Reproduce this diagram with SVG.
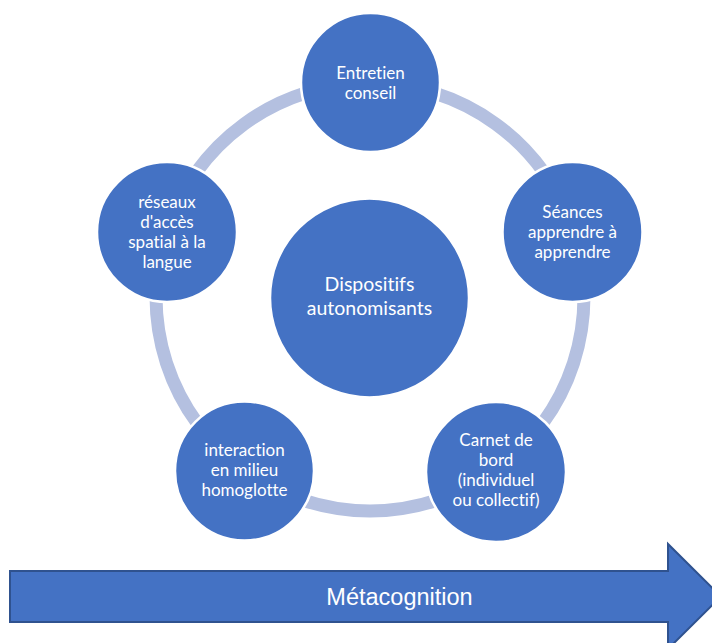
<svg xmlns="http://www.w3.org/2000/svg" width="712" height="643" viewBox="0 0 712 643">
<style>
.node{fill:#4472C4;stroke:#FFFFFF;stroke-width:2.5}
.lbl{font-family:Lato,"Open Sans","Liberation Sans",sans-serif;font-size:17px;fill:#FFFFFF;text-anchor:middle;font-variant-ligatures:none}
.big{font-size:19.5px}
.ring{fill:none;stroke:#B4C0E0;stroke-width:13}
.arrow{fill:#4472C4;stroke:#2F528F;stroke-width:2}
.alabel{font-family:"Liberation Sans",Arial,sans-serif;font-size:23.5px;fill:#FFFFFF;text-anchor:middle}
</style>
<rect width="712" height="643" fill="#FFFFFF"/>
<g id="connectors">
<path class="ring" d="M370,83 A214,214 0 0 1 573.5,230.9"/>
<path class="ring" d="M573.5,230.9 A214,214 0 0 1 495.8,470.1"/>
<path class="ring" d="M495.8,470.1 A214,214 0 0 1 244.2,470.1"/>
<path class="ring" d="M244.2,470.1 A214,214 0 0 1 166.5,230.9"/>
<path class="ring" d="M166.5,230.9 A214,214 0 0 1 370,83"/>
</g>
<g id="center">
<circle class="node" cx="369.5" cy="298" r="99.5"/>
<text class="lbl big" x="369.5" y="291">Dispositifs</text>
<text class="lbl big" x="369.5" y="315">autonomisants</text>
</g>
<g id="entretien">
<circle class="node" cx="370.5" cy="82.5" r="69.5"/>
<text class="lbl" x="370.5" y="79">Entretien</text>
<text class="lbl" x="370.5" y="99">conseil</text>
</g>
<g id="seances">
<circle class="node" cx="572.5" cy="232" r="70"/>
<text class="lbl" x="572.5" y="218">Séances</text>
<text class="lbl" x="572.5" y="238">apprendre à</text>
<text class="lbl" x="572.5" y="258">apprendre</text>
</g>
<g id="carnet">
<circle class="node" cx="496" cy="472" r="70"/>
<text class="lbl" x="496" y="446">Carnet de</text>
<text class="lbl" x="496" y="466">bord</text>
<text class="lbl" x="496" y="486">(individuel</text>
<text class="lbl" x="496" y="506">ou collectif)</text>
</g>
<g id="interaction">
<circle class="node" cx="244.5" cy="471" r="69.5"/>
<text class="lbl" x="244.5" y="456">interaction</text>
<text class="lbl" x="244.5" y="476">en milieu</text>
<text class="lbl" x="244.5" y="496">homoglotte</text>
</g>
<g id="reseaux">
<circle class="node" cx="167" cy="232" r="70"/>
<text class="lbl" x="167" y="208">réseaux</text>
<text class="lbl" x="167" y="228">d'accès</text>
<text class="lbl" x="167" y="248">spatial à la</text>
<text class="lbl" x="167" y="268">langue</text>
</g>
<g id="metacognition">
<polygon class="arrow" points="10,571 668,571 668,544 721,596.5 668,649 668,622 10,622"/>
<text class="alabel" x="399.5" y="605">Métacognition</text>
</g>
</svg>
